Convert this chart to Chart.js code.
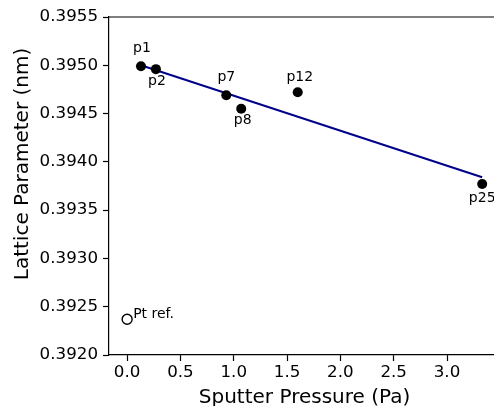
<!DOCTYPE html>
<html>
<head>
<meta charset="utf-8">
<script src="https://cdn.jsdelivr.net/npm/chart.js@4"></script>
<style>
  html, body { margin: 0; padding: 0; background: #fff; overflow: hidden; }
  #wrap { width: 494px; height: 406px; overflow: hidden; }
  canvas { display: block; }
</style>
</head>
<body>
<div id="wrap"><canvas id="lattice-chart" width="510" height="406"></canvas></div>
<script>
// measured films
const samples = ['p1', 'p2', 'p7', 'p8', 'p12', 'p25']
const pressure = [0.13, 0.27, 0.93, 1.07, 1.60, 3.33]
const latticeParam = [0.39499, 0.39496, 0.39469, 0.39455, 0.39472, 0.39377]

// linear fit through the films
const fitPressure = [0.13, 3.33]
const fitLattice = [0.39500, 0.39384]

// bulk platinum reference
const refName = 'Pt ref.'
const refPressure = [0]
const refLattice = [0.39237]

const xTicks = [0, 0.5, 1.0, 1.5, 2.0, 2.5, 3.0]
const yTicks = [0.3920, 0.3925, 0.3930, 0.3935, 0.3940, 0.3945, 0.3950, 0.3955]

const xTitle = 'Sputter Pressure (Pa)'
const yTitle = 'Lattice Parameter (nm)'

const FONT = 'DejaVu Sans'
const toPoints = (xs, ys) => xs.map((x, i) => ({ x, y: ys[i] }))

// where each sample name sits relative to its marker
const labelOffset = {
  p1: [1, -17], p2: [1, 13], p7: [0, -17], p8: [1.5, 13], p12: [2, -14], p25: [0, 15]
}

const frame = {
  id: 'frame',
  afterDraw(chart) {
    const { ctx, chartArea: a } = chart
    ctx.save()
    ctx.strokeStyle = '#000'
    ctx.lineWidth = 1.2
    ctx.beginPath()
    ctx.moveTo(a.left, a.top)
    ctx.lineTo(a.right, a.top)
    ctx.lineTo(a.right, a.bottom)
    ctx.stroke()

    // y axis title, sits a little above the middle of the axis
    ctx.fillStyle = '#000'
    ctx.font = '20px "' + FONT + '"'
    ctx.textAlign = 'center'
    ctx.textBaseline = 'alphabetic'
    ctx.translate(28, 164)
    ctx.rotate(-Math.PI / 2)
    ctx.fillText(yTitle, 0, 0)
    ctx.restore()
  }
}

const pointNames = {
  id: 'pointNames',
  afterDatasetsDraw(chart) {
    const ctx = chart.ctx
    ctx.save()
    ctx.fillStyle = '#000'
    ctx.font = '14px "' + FONT + '"'
    ctx.textAlign = 'center'
    ctx.textBaseline = 'middle'
    chart.getDatasetMeta(0).data.forEach((pt, i) => {
      const [dx, dy] = labelOffset[samples[i]]
      ctx.fillText(samples[i], pt.x + dx, pt.y + dy - 1)
    })
    ctx.textAlign = 'left'
    chart.getDatasetMeta(1).data.forEach(pt => {
      ctx.fillText(refName, pt.x + 6, pt.y - 5)
    })
    ctx.restore()
  }
}

const tickFont = { family: FONT, size: 16.7 }
const titleFont = { family: FONT, size: 20 }

new Chart(document.getElementById('lattice-chart').getContext('2d'), {
  type: 'scatter',
  data: {
    datasets: [
      {
        label: 'films',
        data: toPoints(pressure, latticeParam),
        pointRadius: 5,
        pointBackgroundColor: '#000',
        pointBorderColor: '#000',
        pointBorderWidth: 0,
        order: 0
      },
      {
        label: refName,
        data: toPoints(refPressure, refLattice),
        pointRadius: 5,
        pointBackgroundColor: '#fff',
        pointBorderColor: '#000',
        pointBorderWidth: 1.4,
        order: 1
      },
      {
        type: 'line',
        label: 'fit',
        data: toPoints(fitPressure, fitLattice),
        borderColor: '#00008b',
        borderWidth: 2,
        pointRadius: 0,
        fill: false,
        order: 2
      }
    ]
  },
  options: {
    responsive: false,
    animation: false,
    devicePixelRatio: 1,
    layout: { padding: { top: 17, right: 10, left: 0, bottom: 0 } },
    plugins: { legend: { display: false }, tooltip: { enabled: false } },
    scales: {
      x: {
        type: 'linear',
        min: -0.17,
        max: 3.497,
        afterBuildTicks: s => { s.ticks = xTicks.map(v => ({ value: v })) },
        afterFit: s => { s.height = 51 },
        ticks: { callback: v => v.toFixed(1), color: '#000', font: tickFont, padding: 2, maxRotation: 0 },
        grid: { drawOnChartArea: false, tickLength: 6, color: '#000', tickWidth: 1.2 },
        border: { display: true, color: '#000', width: 1.2 },
        title: { display: true, text: xTitle, color: '#000', font: titleFont, padding: { top: 0, bottom: -4 } }
      },
      y: {
        type: 'linear',
        min: 0.3920,
        max: 0.3955,
        afterBuildTicks: s => { s.ticks = yTicks.map(v => ({ value: v })) },
        afterFit: s => { s.width = 109 },
        ticks: { callback: v => v.toFixed(4), color: '#000', font: tickFont, padding: 5 },
        grid: { drawOnChartArea: false, tickLength: 6, color: '#000', tickWidth: 1.2 },
        border: { display: true, color: '#000', width: 1.2 }
      }
    }
  },
  plugins: [frame, pointNames]
})
</script>
</body>
</html>
